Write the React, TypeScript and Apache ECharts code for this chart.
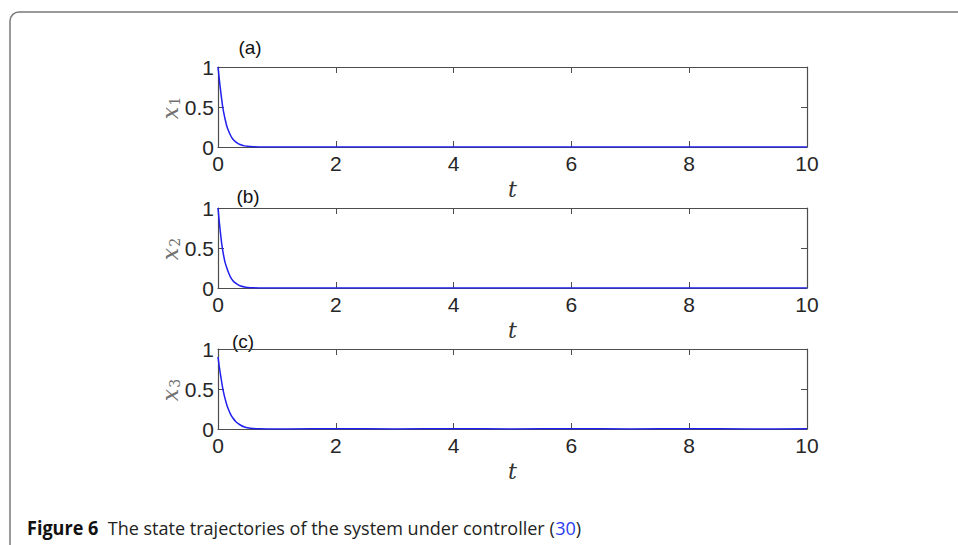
import React, { useEffect, useRef } from "react";
import * as echarts from "echarts";

// Time axis settings shared by all three panels
const tMin = 0;
const tMax = 10;
const tStep = 2;

// State trajectories [t, value]
const x1Data: [number, number][] = [
  [0, 1], [0.02, 0.86], [0.04, 0.73], [0.06, 0.61], [0.08, 0.5], [0.1, 0.42],
  [0.12, 0.35], [0.15, 0.26], [0.18, 0.2], [0.21, 0.15], [0.25, 0.1],
  [0.3, 0.065], [0.35, 0.04], [0.4, 0.024], [0.45, 0.014], [0.5, 0.008],
  [0.6, 0.003], [0.7, 0.001], [0.9, 0], [2, 0], [4, 0], [6, 0], [8, 0], [10, 0],
];
const x2Data: [number, number][] = [
  [0, 1], [0.02, 0.84], [0.04, 0.7], [0.06, 0.57], [0.08, 0.47], [0.1, 0.39],
  [0.12, 0.32], [0.15, 0.25], [0.18, 0.19], [0.21, 0.14], [0.25, 0.095],
  [0.3, 0.06], [0.35, 0.036], [0.4, 0.021], [0.45, 0.012], [0.5, 0.007],
  [0.6, 0.002], [0.7, 0.001], [0.9, 0], [2, 0], [4, 0], [6, 0], [8, 0], [10, 0],
];
const x3Data: [number, number][] = [
  [0, 0.9], [0.02, 0.79], [0.04, 0.69], [0.06, 0.6], [0.08, 0.51], [0.1, 0.44],
  [0.12, 0.38], [0.15, 0.3], [0.18, 0.24], [0.21, 0.19], [0.25, 0.14],
  [0.3, 0.095], [0.35, 0.063], [0.4, 0.041], [0.45, 0.026], [0.5, 0.016],
  [0.6, 0.006], [0.7, 0.002], [0.85, 0.001], [1.2, 0], [2, 0.004], [3, 0],
  [4, 0.004], [5, 0], [6, 0.004], [7, 0], [8, 0.004], [9, 0], [10, 0.003],
];

const panelSeries = [x1Data, x2Data, x3Data];
const panelTags = ["(a)", "(b)", "(c)"];
const stateIndex = ["1", "2", "3"];

const axisColor = "#4d4d4d";
const labelColor = "#262626";
const lineColor = "#1f1fef";
const mathFont = "DejaVu Serif, Liberation Serif, serif";
const captionFont = "Open Sans, Noto Sans, sans-serif";

const gridLeft = 218;
const gridWidth = 589;
const gridHeight = 80;
const gridTops = [67, 208, 349];
const tagPos: [number, number][] = [[250, 47], [248, 196], [243, 341]];

export default function App() {
  const ref = useRef<HTMLDivElement>(null);

  useEffect(() => {
    if (!ref.current) return;
    const chart = echarts.init(ref.current, null, { renderer: "svg" });

    const grid: any[] = [];
    const xAxis: any[] = [];
    const yAxis: any[] = [];
    const series: any[] = [];
    const graphic: any[] = [];

    const tickStyle = { inside: true, length: 6, lineStyle: { color: axisColor, width: 1 } };
    const lineStyle = { show: true, onZero: false, lineStyle: { color: axisColor, width: 1.2 } };
    const labelStyle = {
      fontSize: 21,
      color: labelColor,
      fontFamily: "Liberation Sans, Arial, sans-serif",
    };

    panelSeries.forEach((data, i) => {
      grid.push({ left: gridLeft, top: gridTops[i], width: gridWidth, height: gridHeight });

      xAxis.push({
        gridIndex: i,
        type: "value",
        position: "bottom",
        min: tMin,
        max: tMax,
        interval: tStep,
        axisLine: lineStyle,
        axisTick: tickStyle,
        splitLine: { show: false },
        axisLabel: { ...labelStyle, margin: 6 },
        name: "t",
        nameLocation: "middle",
        nameGap: 31,
        nameTextStyle: {
          fontFamily: mathFont,
          fontStyle: "italic",
          fontSize: 22,
          color: "#333",
        },
      });
      xAxis.push({
        gridIndex: i,
        type: "value",
        position: "top",
        min: tMin,
        max: tMax,
        interval: tStep,
        axisLine: lineStyle,
        axisTick: tickStyle,
        splitLine: { show: false },
        axisLabel: { show: false },
      });

      yAxis.push({
        gridIndex: i,
        type: "value",
        position: "left",
        min: 0,
        max: 1,
        interval: 0.5,
        axisLine: lineStyle,
        axisTick: tickStyle,
        splitLine: { show: false },
        axisLabel: { ...labelStyle, margin: 4 },
      });
      yAxis.push({
        gridIndex: i,
        type: "value",
        position: "right",
        min: 0,
        max: 1,
        interval: 0.5,
        axisLine: lineStyle,
        axisTick: tickStyle,
        splitLine: { show: false },
        axisLabel: { show: false },
      });

      series.push({
        type: "line",
        xAxisIndex: 2 * i,
        yAxisIndex: 2 * i,
        data,
        showSymbol: false,
        smooth: 0.2,
        lineStyle: { color: lineColor, width: 1.5 },
        z: 3,
      });

      // Panel tag
      graphic.push({
        type: "text",
        x: tagPos[i][0],
        y: tagPos[i][1],
        style: {
          text: panelTags[i],
          fontSize: 19,
          fontFamily: "Liberation Sans, Arial, sans-serif",
          fill: "#111",
          align: "center",
          verticalAlign: "middle",
        },
      });

      // Rotated state name x_i
      graphic.push({
        type: "text",
        x: 170,
        y: gridTops[i] + gridHeight / 2 + 1,
        rotation: Math.PI / 2,
        style: {
          text: `{x|x}{s|${stateIndex[i]}}`,
          align: "center",
          verticalAlign: "middle",
          fontFamily: mathFont,
          fontStyle: "italic",
          fontSize: 22,
          fill: "#707070",
          rich: {
            x: {
              fontFamily: mathFont,
              fontStyle: "italic",
              fontSize: 22,
              fill: "#707070",
            },
            s: {
              fontFamily: mathFont,
              fontStyle: "normal",
              fontSize: 14,
              fill: "#707070",
              padding: [10, 0, 0, 1],
            },
          },
        },
      });
    });

    // Card frame around the figure
    graphic.push({
      type: "rect",
      shape: { x: 10, y: 12, width: 1000, height: 600, r: 9 },
      style: { fill: "none", stroke: "#7a7a7a", lineWidth: 1.5 },
      z: -1,
    });

    // Caption
    graphic.push({
      type: "text",
      x: 27,
      y: 527,
      scaleX: 0.95,
      style: {
        text: "{b|Figure 6}  The state trajectories of the system under controller ({l|30})",
        fontSize: 19,
        fontFamily: captionFont,
        fill: "#222",
        verticalAlign: "middle",
        rich: {
          b: { fontSize: 19, fontWeight: "bold", fontFamily: captionFont, fill: "#111" },
          l: { fontSize: 19, fontFamily: captionFont, fill: "#2a3cf0" },
        },
      },
    });

    chart.setOption({
      animation: false,
      backgroundColor: "#ffffff",
      grid,
      xAxis,
      yAxis,
      series,
      graphic,
    });

    return () => chart.dispose();
  }, []);

  return (
    <div
      ref={ref}
      style={{ position: "fixed", left: 0, top: 0, width: 958, height: 545 }}
    />
  );
}
